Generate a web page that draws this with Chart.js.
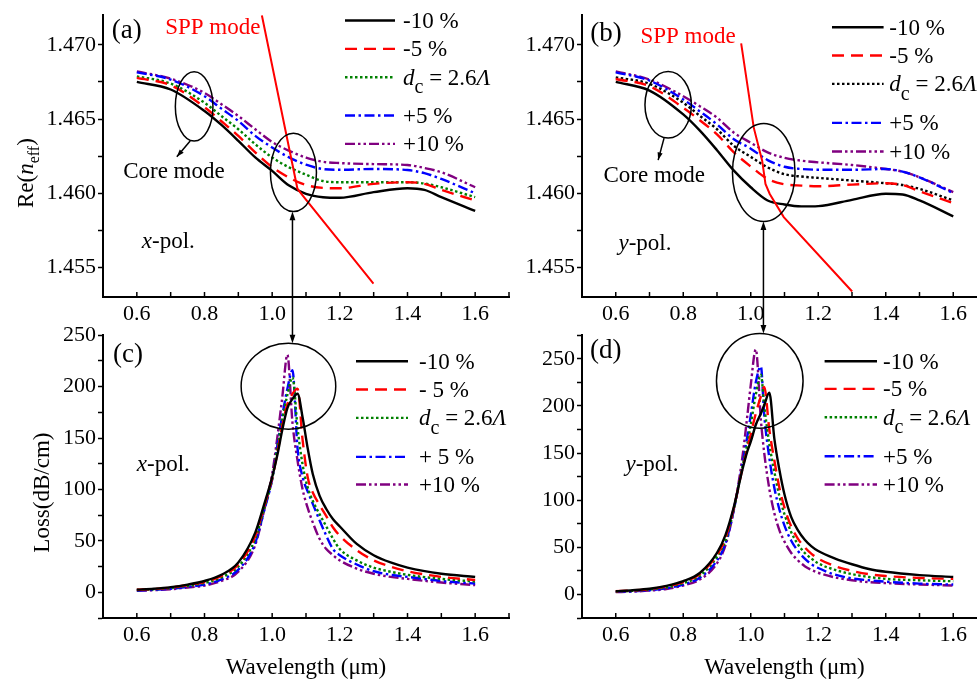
<!DOCTYPE html>
<html>
<head>
<meta charset="utf-8">
<script src="https://cdn.jsdelivr.net/npm/chart.js@4.4.1/dist/chart.umd.min.js"></script>
<style>
  html, body { margin: 0; padding: 0; background: #fff; overflow: hidden; width: 977px; height: 679px; }
  canvas { position: absolute; }
</style>
</head>
<body>
<canvas id="chart-a" width="520" height="330" style="left:0;top:0"></canvas>
<canvas id="chart-b" width="520" height="330" style="left:480px;top:0"></canvas>
<canvas id="chart-c" width="520" height="359" style="left:0;top:320px"></canvas>
<canvas id="chart-d" width="520" height="359" style="left:480px;top:320px"></canvas>
<canvas id="links" width="977" height="679" style="left:0;top:0;pointer-events:none"></canvas>
<script>
// --- Data: Re(n_eff) of core mode, panels (a) x-pol. and (b) y-pol. ---
const wlRe = [0.6, 0.7, 0.8, 0.85, 0.9, 0.95, 1.0, 1.05, 1.1, 1.15, 1.2, 1.3, 1.4, 1.45, 1.5, 1.6];

const reXm10 = [1.46750, 1.46699, 1.46554, 1.46460, 1.46353, 1.46241, 1.46150, 1.46051, 1.45996, 1.45973, 1.45969, 1.46007, 1.46033, 1.46022, 1.45973, 1.45880];
const reXm5  = [1.46777, 1.46728, 1.46580, 1.46485, 1.46386, 1.46275, 1.46176, 1.46105, 1.46055, 1.46036, 1.46033, 1.46063, 1.46074, 1.46063, 1.46022, 1.45951];
const reX0   = [1.46788, 1.46739, 1.46610, 1.46520, 1.46431, 1.46330, 1.46241, 1.46174, 1.46125, 1.46082, 1.46074, 1.46074, 1.46074, 1.46065, 1.46040, 1.45973];
const reXp5  = [1.46815, 1.46766, 1.46654, 1.46570, 1.46487, 1.46386, 1.46308, 1.46241, 1.46192, 1.46163, 1.46158, 1.46163, 1.46156, 1.46135, 1.46096, 1.46000];
const reXp10 = [1.46821, 1.46772, 1.46676, 1.46600, 1.46520, 1.46431, 1.46345, 1.46286, 1.46240, 1.46212, 1.46203, 1.46196, 1.46190, 1.46170, 1.46141, 1.46040];

const reYm10 = [1.46750, 1.46692, 1.46531, 1.46420, 1.46290, 1.46152, 1.46040, 1.45951, 1.45924, 1.45911, 1.45913, 1.45955, 1.45996, 1.45991, 1.45951, 1.45844];
const reYm5  = [1.46770, 1.46721, 1.46576, 1.46490, 1.46397, 1.46275, 1.46180, 1.46096, 1.46060, 1.46051, 1.46047, 1.46058, 1.46067, 1.46055, 1.46013, 1.45933];
const reY0   = [1.46781, 1.46737, 1.46610, 1.46520, 1.46431, 1.46319, 1.46245, 1.46174, 1.46128, 1.46112, 1.46103, 1.46085, 1.46067, 1.46055, 1.46029, 1.45951];
const reYp5  = [1.46815, 1.46759, 1.46632, 1.46550, 1.46464, 1.46364, 1.46300, 1.46223, 1.46178, 1.46163, 1.46158, 1.46158, 1.46163, 1.46145, 1.46107, 1.46000];
const reYp10 = [1.46821, 1.46766, 1.46654, 1.46585, 1.46509, 1.46408, 1.46340, 1.46275, 1.46238, 1.46219, 1.46208, 1.46190, 1.46163, 1.46145, 1.46107, 1.46007];

// SPP mode
const sppXwl = [0.9695, 1.0747, 1.0916, 1.2994];
const sppXre = [1.4720, 1.4603, 1.4598, 1.4539];
const sppYwl = [0.9716, 1.0089, 1.0338, 1.0436, 1.0563, 1.0978, 1.3004];
const sppYre = [1.4701, 1.46442, 1.46219, 1.46062, 1.45995, 1.45839, 1.45337];

// --- Data: loss (dB/cm), panels (c) x-pol. and (d) y-pol. ---
const wlLossX = [0.6, 0.65, 0.7, 0.75, 0.8, 0.85, 0.9, 0.95, 0.975, 1.0, 1.015, 1.03, 1.045, 1.06, 1.075, 1.09, 1.105, 1.12, 1.14, 1.16, 1.18, 1.2, 1.25, 1.3, 1.35, 1.4, 1.5, 1.6];
const lossXm10 = [2.6, 3.5, 5, 7.5, 11, 17, 29, 58, 84, 112, 133, 158, 179, 188, 193, 170, 140, 115, 94, 81, 71, 64, 47, 36, 29, 24, 18, 15];
const lossXm5  = [2.5, 3.2, 4.6, 7, 10, 16, 27, 55, 82, 111, 135, 162, 183, 193, 198, 148, 112, 97, 85, 74, 63, 55, 41, 31, 25, 20.5, 15, 12];
const lossX0   = [2.2, 2.9, 4.2, 6.3, 9, 14.5, 25, 52, 80, 110, 140, 168, 192, 209, 160, 124, 102, 89, 76, 64, 52, 42, 31, 24, 20, 17, 13, 10.5];
const lossXp5  = [1.8, 2.4, 3.5, 5.3, 7.5, 12.5, 22, 48, 78, 110, 142, 172, 198, 216, 140, 112, 98, 86, 70, 55, 42, 36, 27, 20.5, 17, 15, 11, 8.5];
const lossXp10 = [1.5, 2, 3, 4.6, 6.5, 11, 20, 46, 78, 115, 150, 190, 231, 165, 128, 100, 82, 68, 52, 42, 36, 31, 23, 18, 15, 13, 9.5, 7];

const wlLossY = [0.6, 0.65, 0.7, 0.75, 0.8, 0.85, 0.9, 0.925, 0.95, 0.975, 0.99, 1.0, 1.015, 1.03, 1.04, 1.055, 1.07, 1.085, 1.1, 1.12, 1.14, 1.16, 1.18, 1.2, 1.25, 1.3, 1.35, 1.4, 1.5, 1.6];
const lossYm10 = [3.5, 4.5, 6, 9, 14, 23, 44, 63, 93, 132, 152, 162, 180, 192, 201, 214, 165, 132, 106, 82, 68, 58, 51, 46, 38, 32, 27, 24, 20.5, 18.6];
const lossYm5  = [3.3, 4.2, 5.6, 8.5, 13, 22, 42, 60, 92, 133, 155, 170, 192, 210, 220, 175, 142, 113, 92, 72, 59, 50, 43, 38, 30, 25, 21.5, 19.5, 17.5, 16.5];
const lossY0   = [3, 3.8, 5.2, 7.5, 12, 20, 40, 57, 91, 135, 160, 180, 212, 233, 200, 160, 130, 104, 85, 66, 53, 44, 38, 33, 26, 21.5, 18.5, 16.5, 15, 14];
const lossYp5  = [2.7, 3.3, 4.5, 6.5, 10.5, 18, 36, 54, 90, 137, 168, 190, 225, 242, 190, 145, 113, 90, 73, 57, 46, 38, 32, 28, 21, 17, 15, 13.5, 11.5, 10.5];
const lossYp10 = [2.5, 3, 4, 5.8, 9.5, 16, 33, 52, 90, 145, 190, 222, 260, 185, 150, 112, 86, 68, 56, 44, 36, 30, 26, 23, 18, 15, 13, 12, 10.5, 9.5];

const labelsTop = ['-10 %', '-5 %', 'd_c = 2.6Λ', '+5 %', '+10 %'];
const labelsC   = ['-10 %', '- 5 %', 'd_c = 2.6Λ', '+ 5 %', '+10 %'];
const labelsD   = ['-10 %', '-5 %', 'd_c = 2.6Λ', '+5 %', '+10 %'];

// --- Styles ---
const FONT = '"Liberation Serif", "Times New Roman", serif';
Chart.defaults.font.family = FONT;

const styles = [
  { color: '#000000', dash: [] },
  { color: '#ff0000', dash: [12, 7] },
  { color: '#008000', dash: [2.5, 2.5] },
  { color: '#0000ff', dash: [10, 3.5, 2.5, 3.5] },
  { color: '#800080', dash: [10, 3, 2.5, 3, 2.5, 3] },
];
const stylesB = styles.map((s, i) => i === 2 ? { color: '#000000', dash: s.dash } : s);

const lineSet = (label, xs, ys, style) => ({
  label,
  data: xs.map((x, i) => ({ x, y: ys[i] })),
  borderColor: style.color,
  borderDash: style.dash,
  borderWidth: 2.4,
  pointRadius: 0,
  fill: false,
  cubicInterpolationMode: 'monotone',
});

const sppSet = (xs, ys) => ({
  label: '',
  data: xs.map((x, i) => ({ x, y: ys[i] })),
  borderColor: '#ff0000',
  borderWidth: 2,
  pointRadius: 0,
  tension: 0,
  fill: false,
});

// --- Text helpers ---
const richParts = s => s.startsWith('d_c')
  ? [{ t: 'd', it: true }, { t: 'c', scale: 0.85, dy: 0.35 }, { t: ' = 2.6' }, { t: 'Λ', it: true }]
  : [{ t: s }];

function drawRich(ctx, parts, x, y, size, align) {
  const fontOf = p => `${p.it ? 'italic ' : ''}${Math.round(size * (p.scale || 1))}px ${FONT}`;
  const widths = parts.map(p => { ctx.font = fontOf(p); return ctx.measureText(p.t).width; });
  const total = widths.reduce((s, w) => s + w, 0);
  let cx = align === 'center' ? x - total / 2 : x;
  ctx.textAlign = 'left';
  ctx.textBaseline = 'alphabetic';
  parts.forEach((p, i) => {
    ctx.font = fontOf(p);
    ctx.fillText(p.t, cx, y + size * 0.33 + (p.dy || 0) * size);
    cx += widths[i];
  });
}

function arrowHead(ctx, x1, y1, x2, y2, len) {
  const ang = Math.atan2(y2 - y1, x2 - x1);
  ctx.beginPath();
  ctx.moveTo(x2, y2);
  ctx.lineTo(x2 - len * Math.cos(ang - 0.33), y2 - len * Math.sin(ang - 0.33));
  ctx.lineTo(x2 - len * Math.cos(ang + 0.33), y2 - len * Math.sin(ang + 0.33));
  ctx.closePath();
  ctx.fill();
}

// per-panel drawing: inward x ticks, tag, legend, notes, ellipses, axis titles
function makeNotes(spec) {
  return {
    id: 'notes',
    afterDatasetsDraw(chart) {
      const { ctx, chartArea: a, scales: { x, y } } = chart;
      ctx.save();
      ctx.fillStyle = '#000';
      ctx.strokeStyle = '#000';
      ctx.lineWidth = 1.5;
      x.ticks.forEach(t => {
        const px = x.getPixelForValue(t.value);
        ctx.beginPath(); ctx.moveTo(px, a.bottom); ctx.lineTo(px, a.bottom - 5); ctx.stroke();
      });

      drawRich(ctx, [{ t: spec.tag }], a.left + spec.tagAt[0], a.top + spec.tagAt[1], 27);

      // legend
      const lg = spec.legend;
      chart.data.datasets.filter(d => d.label).forEach((d, i) => {
        const ry = a.top + lg.rows[i];
        ctx.save();
        ctx.strokeStyle = d.borderColor;
        ctx.lineWidth = 2.4;
        ctx.setLineDash(d.borderDash || []);
        ctx.beginPath(); ctx.moveTo(a.left + lg.x0, ry); ctx.lineTo(a.left + lg.x1, ry); ctx.stroke();
        ctx.restore();
        drawRich(ctx, richParts(d.label), a.left + lg.tx, ry, 23);
      });

      spec.texts.forEach(tx => {
        ctx.fillStyle = tx.color || '#000';
        drawRich(ctx, tx.parts, x.getPixelForValue(tx.at[0]), y.getPixelForValue(tx.at[1]), 23);
      });
      ctx.fillStyle = '#000';

      ctx.lineWidth = 1.5;
      spec.ellipses.forEach(e => {
        ctx.beginPath();
        ctx.ellipse(x.getPixelForValue(e.at[0]), y.getPixelForValue(e.at[1]), e.rx, e.ry, 0, 0, Math.PI * 2);
        ctx.stroke();
      });
      spec.arrows.forEach(ar => {
        const x1 = x.getPixelForValue(ar.from[0]), y1 = y.getPixelForValue(ar.from[1]);
        const x2 = x.getPixelForValue(ar.to[0]), y2 = y.getPixelForValue(ar.to[1]);
        ctx.beginPath(); ctx.moveTo(x1, y1); ctx.lineTo(x2, y2); ctx.stroke();
        arrowHead(ctx, x1, y1, x2, y2, 8);
      });

      if (spec.yTitle) {
        ctx.save();
        ctx.translate(a.left + spec.yTitle.dx, (a.top + a.bottom) / 2 + spec.yTitle.dy);
        ctx.rotate(-Math.PI / 2);
        drawRich(ctx, spec.yTitle.parts, 0, 0, 23, 'center');
        ctx.restore();
      }
      if (spec.xTitle) {
        drawRich(ctx, spec.xTitle.parts, (a.left + a.right) / 2, a.bottom + spec.xTitle.dy, 23, 'center');
      }
      ctx.restore();
    }
  };
}

const xTickLabel = v => {
  const k = Math.round(v * 10);
  return (k % 2 === 0 && k >= 6 && k <= 16) ? (k / 10).toFixed(1) : '';
};

function panel(id, datasets, yRange, yStep, yLabel, box, spec) {
  return new Chart(document.getElementById(id), {
    type: 'line',
    data: { datasets },
    options: {
      responsive: false,
      animation: false,
      events: [],
      layout: { padding: { left: 0, top: box.top, right: box.right, bottom: 0 } },
      plugins: { legend: { display: false }, tooltip: { enabled: false } },
      scales: {
        x: {
          type: 'linear', min: 0.5, max: 1.7,
          afterFit: s => { s.height = box.xh; },
          ticks: { stepSize: 0.1, autoSkip: false, maxRotation: 0, includeBounds: false, padding: 4,
                   color: '#000', font: { size: 22 }, callback: xTickLabel },
          grid: { display: false, drawTicks: false },
          border: { display: true, color: '#000', width: 2 },
        },
        y: {
          type: 'linear', min: yRange[0], max: yRange[1],
          afterFit: s => { s.width = box.yw; },
          ticks: { stepSize: yStep, autoSkip: false, includeBounds: false, padding: 2,
                   color: '#000', font: { size: 22 }, callback: yLabel },
          grid: { display: true, drawOnChartArea: false, drawTicks: true, tickLength: 5,
                  tickWidth: 1.5, tickColor: '#000' },
          border: { display: true, color: '#000', width: 2 },
        },
      },
    },
    plugins: [makeNotes(spec)],
  });
}

const reLabel = v => Math.abs(v * 200 - Math.round(v * 200)) < 1e-6 ? v.toFixed(3) : '';
const lossLabel = v => (v >= 0 && Math.round(v) % 50 === 0) ? String(Math.round(v)) : '';

const seriesOf = (labels, xs, ys, st) => ys.map((vals, i) => lineSet(labels[i], xs, vals, st[i]));

const chartA = panel('chart-a',
  [sppSet(sppXwl, sppXre), ...seriesOf(labelsTop, wlRe, [reXm10, reXm5, reX0, reXp5, reXp10], styles)],
  [1.453, 1.472], 0.0025, reLabel,
  { top: 13, right: 11, xh: 33, yw: 103 },
  {
    tag: '(a)', tagAt: [8.7, 13.7],
    legend: { x0: 242, x1: 292, tx: 300, rows: [5.3, 33.7, 62, 100.3, 128.7] },
    texts: [
      { at: [0.6837, 1.47123], parts: [{ t: 'SPP mode' }], color: '#ff0000' },
      { at: [0.5595, 1.46152], parts: [{ t: 'Core mode' }] },
      { at: [0.6148, 1.45683], parts: [{ t: 'x', it: true }, { t: '-pol.' }] },
    ],
    ellipses: [
      { at: [0.7694, 1.46585], rx: 18.8, ry: 34.7 },
      { at: [1.0629, 1.46140], rx: 23, ry: 39.2 },
    ],
    arrows: [{ from: [0.7576, 1.46352], to: [0.7182, 1.46245] }],
    yTitle: { dx: -78, dy: 17, parts: [{ t: 'Re(' }, { t: 'n', it: true }, { t: 'eff', scale: 0.68, dy: 0.3 }, { t: ')' }] },
  });

const chartB = panel('chart-b',
  [sppSet(sppYwl, sppYre), ...seriesOf(labelsTop, wlRe, [reYm10, reYm5, reY0, reYp5, reYp10], stylesB)],
  [1.453, 1.472], 0.0025, reLabel,
  { top: 13, right: 13, xh: 33, yw: 102 },
  {
    tag: '(b)', tagAt: [8.3, 17],
    legend: { x0: 250, x1: 301.6, tx: 307.3, rows: [12, 40.3, 68.7, 107.7, 136.3] },
    texts: [
      { at: [0.6732, 1.47067], parts: [{ t: 'SPP mode' }], color: '#ff0000' },
      { at: [0.5636, 1.46129], parts: [{ t: 'Core mode' }] },
      { at: [0.608, 1.45667], parts: [{ t: 'y', it: true }, { t: '-pol.' }] },
    ],
    ellipses: [
      { at: [0.7553, 1.46596], rx: 23.2, ry: 33.3 },
      { at: [1.0385, 1.46140], rx: 31.3, ry: 49 },
    ],
    arrows: [{ from: [0.7431, 1.46371], to: [0.7256, 1.46223] }],
  });

const chartC = panel('chart-c',
  seriesOf(labelsC, wlLossX, [lossXm10, lossXm5, lossX0, lossXp5, lossXp10], styles),
  [-25, 250], 25, lossLabel,
  { top: 14, right: 11, xh: 61, yw: 103 },
  {
    tag: '(c)', tagAt: [10, 17.7],
    legend: { x0: 253, x1: 305, tx: 316, rows: [26, 54.3, 82.7, 121.7, 149.3] },
    texts: [{ at: [0.6, 125.6], parts: [{ t: 'x', it: true }, { t: '-pol.' }] }],
    ellipses: [{ at: [1.0481, 200.4], rx: 47.3, ry: 43 }],
    arrows: [],
    yTitle: { dx: -61.6, dy: 16, parts: [{ t: 'Loss(dB/cm)' }] },
    xTitle: { dy: 48.7, parts: [{ t: 'Wavelength (μm)' }] },
  });

const chartD = panel('chart-d',
  seriesOf(labelsD, wlLossY, [lossYm10, lossYm5, lossY0, lossYp5, lossYp10], styles),
  [-25, 275], 25, lossLabel,
  { top: 14, right: 13, xh: 61, yw: 102 },
  {
    tag: '(d)', tagAt: [8, 14],
    legend: { x0: 242.6, x1: 295, tx: 301, rows: [26, 53.7, 82, 121, 149.3] },
    texts: [{ at: [0.6287, 139.4], parts: [{ t: 'y', it: true }, { t: '-pol.' }] }],
    ellipses: [{ at: [1.0267, 226.5], rx: 43.3, ry: 47.3 }],
    arrows: [],
    xTitle: { dy: 48.7, parts: [{ t: 'Wavelength (μm)' }] },
  });

// --- double arrows linking the crossing region (top) to the loss peak (bottom) ---
const linkSpecs = [
  { top: chartA, bottom: chartC, wl: 1.06, from: [1.46140, 39.2], to: [200.4, 43] },
  { top: chartB, bottom: chartD, wl: 1.0376, from: [1.46140, 49], to: [226.5, 47.3] },
];
const lctx = document.getElementById('links').getContext('2d');
lctx.strokeStyle = '#000';
lctx.fillStyle = '#000';
lctx.lineWidth = 1.5;
linkSpecs.forEach(l => {
  const c1 = l.top.canvas, c2 = l.bottom.canvas;
  const px = c1.offsetLeft + l.top.scales.x.getPixelForValue(l.wl);
  const y1 = c1.offsetTop + l.top.scales.y.getPixelForValue(l.from[0]) + l.from[1];
  const y2 = c2.offsetTop + l.bottom.scales.y.getPixelForValue(l.to[0]) - l.to[1];
  lctx.beginPath(); lctx.moveTo(px, y1 + 4); lctx.lineTo(px, y2 - 4); lctx.stroke();
  arrowHead(lctx, px, y2, px, y1, 9);
  arrowHead(lctx, px, y1, px, y2, 9);
});
</script>
</body>
</html>
